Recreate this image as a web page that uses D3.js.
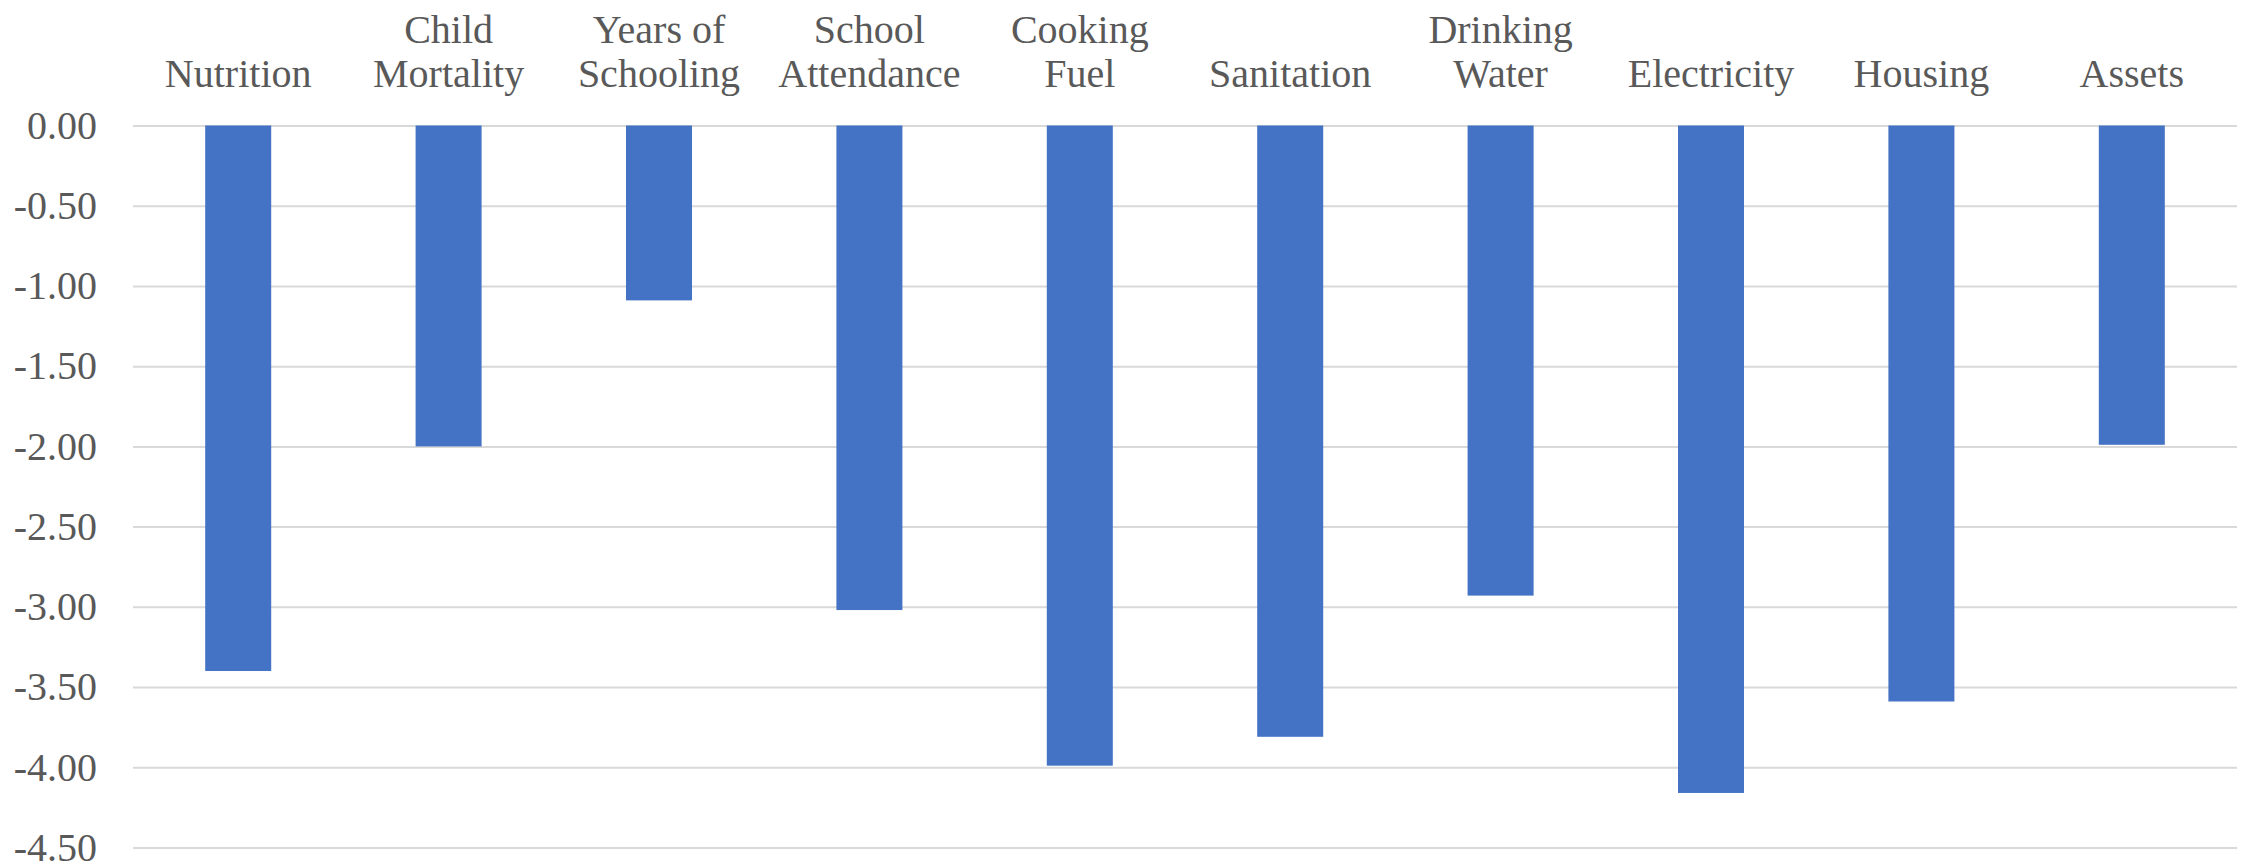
<!DOCTYPE html>
<html>
<head>
<meta charset="utf-8">
<script src="https://cdn.jsdelivr.net/npm/d3@7"></script>
<style>
  body { margin: 0; background: #fff; }
  text { font-family: "Liberation Serif", "Times New Roman", serif; fill: #595959; }
</style>
</head>
<body>
<svg class="chart"></svg>
<script>
var width = 2252;
var height = 865;

var margin = { top: 125.5, right: 15, bottom: 17.5, left: 133 };

// data
var categories = ["Nutrition", "Child Mortality", "Years of Schooling", "School Attendance",
    "Cooking Fuel", "Sanitation", "Drinking Water", "Electricity", "Housing", "Assets"];
var labelLines = [["Nutrition"], ["Child", "Mortality"], ["Years of", "Schooling"], ["School", "Attendance"],
    ["Cooking", "Fuel"], ["Sanitation"], ["Drinking", "Water"], ["Electricity"], ["Housing"], ["Assets"]];
var values = [-3.40, -2.00, -1.09, -3.02, -3.99, -3.81, -2.93, -4.16, -3.59, -1.99];
var yTicks = [0, -0.5, -1, -1.5, -2, -2.5, -3, -3.5, -4, -4.5];

var gapRatio = 0.6863; // excel gap width ~219%

var chart = d3.select(".chart")
    .attr("width", width)
    .attr("height", height);

var x = d3.scaleBand()
    .domain(categories)
    .range([margin.left, width - margin.right])
    .paddingInner(gapRatio)
    .paddingOuter(gapRatio / 2);

var y = d3.scaleLinear()
    .domain([0, -4.5])
    .range([margin.top, height - margin.bottom]);

var fmt = d3.formatLocale({ decimal: ".", thousands: ",", grouping: [3], currency: ["", ""], minus: "-" }).format(".2f");

// gridlines + y labels
var yAxis = d3.axisLeft(y)
    .tickValues(yTicks)
    .tickSize(-(width - margin.left - margin.right))
    .tickPadding(36)
    .tickFormat(fmt);

var ga = chart.append("g")
    .attr("transform", "translate(" + margin.left + ",0)")
    .call(yAxis);

ga.select(".domain").remove();
ga.selectAll(".tick line")
    .attr("stroke", "#d9d9d9")
    .attr("stroke-width", 2);
ga.selectAll(".tick text")
    .attr("font-size", 40)
    .attr("fill", "#595959")
    .style("font-family", "'Liberation Serif', serif");

// bars
chart.append("g")
    .selectAll("rect")
    .data(values)
    .enter()
    .append("rect")
    .attr("x", function(d, i) { return x(categories[i]); })
    .attr("width", x.bandwidth())
    .attr("y", y(0))
    .attr("height", function(d) { return y(d) - y(0); })
    .attr("fill", "#4472C4");

// category labels on top, bottom line aligned
var lineGap = 44;
var baseLine = 87;

var lbl = chart.append("g")
    .selectAll("text")
    .data(labelLines)
    .enter()
    .append("text")
    .attr("text-anchor", "middle")
    .attr("font-size", 40)
    .attr("x", function(d, i) { return x(categories[i]) + x.bandwidth() / 2; });

lbl.selectAll("tspan")
    .data(function(d) { return d.map(function(s, j) { return { s: s, k: d.length - 1 - j }; }); })
    .enter()
    .append("tspan")
    .attr("x", function() { return d3.select(this.parentNode).attr("x"); })
    .attr("y", function(d) { return baseLine - d.k * lineGap; })
    .text(function(d) { return d.s; });
</script>
</body>
</html>
